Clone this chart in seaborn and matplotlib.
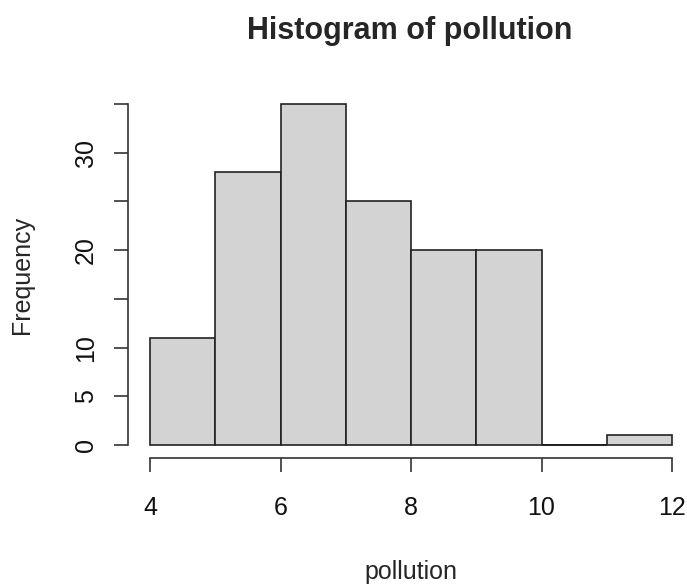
import matplotlib
matplotlib.use("Agg")
import matplotlib.pyplot as plt
import seaborn as sns
import numpy as np

bin_edges = [4, 5, 6, 7, 8, 9, 10, 11, 12]
counts = [11, 28, 35, 25, 20, 20, 0, 1]
x_ticks = [4, 6, 8, 10, 12]
y_ticks = [0, 5, 10, 15, 20, 25, 30, 35]
y_labels = ["0", "5", "10", "", "20", "", "30", ""]

sns.set_style("white")
plt.rcParams['font.family'] = ['Liberation Sans', 'DejaVu Sans']

W, H = 687, 584
PT = 72 / 100  # points per pixel at 100 dpi
fig = plt.figure(figsize=(W / 100, H / 100), dpi=100)
left, right = 150 / W, 672 / W
bottom, top = (H - 445) / H, (H - 104) / H
ax = fig.add_axes([left, bottom, right - left, top - bottom])

centers = [(a + b) / 2 for a, b in zip(bin_edges[:-1], bin_edges[1:])]
sns.histplot(x=centers, weights=counts, bins=bin_edges, ax=ax,
             color="#D3D3D3", edgecolor="#222222", linewidth=1.2, alpha=1)
for p in ax.patches:
    p.set_clip_on(False)
    p.set_linewidth(1.2)
    p.set_edgecolor("#222222")

# empty bins are drawn by R as a flat outline at zero
for a, b, c in zip(bin_edges[:-1], bin_edges[1:], counts):
    if c == 0:
        ax.plot([a, b], [0, 0], color="#222222", linewidth=1.4, clip_on=False,
                solid_capstyle="butt")

ax.set_xlim(4, 12)
ax.set_ylim(0, 35)
ax.set_xticks(x_ticks)
ax.set_xticklabels([str(t) for t in x_ticks])
ax.set_yticks(y_ticks)
ax.set_yticklabels(y_labels)

for s in ["top", "right"]:
    ax.spines[s].set_visible(False)
ax.spines["left"].set_position(("outward", 22 * PT))
ax.spines["bottom"].set_position(("outward", 13 * PT))
ax.spines["left"].set_bounds(0, 35)
ax.spines["bottom"].set_bounds(4, 12)
for s in ["left", "bottom"]:
    ax.spines[s].set_color("#333333")
    ax.spines[s].set_linewidth(1.2)

ax.tick_params(axis="both", which="both", direction="out", length=14 * PT, width=1.2,
               color="#333333", labelsize=18, labelcolor="#111111",
               left=True, bottom=True)
ax.tick_params(axis="x", pad=24 * PT)
ax.tick_params(axis="y", pad=16 * PT, labelrotation=90)
for lab in ax.get_yticklabels():
    lab.set_va("center")

ax.set_xlabel("pollution", fontsize=18, labelpad=40 * PT)
ax.set_ylabel("Frequency", fontsize=18, labelpad=40 * PT)
fig.text(410 / W, 1 - 31 / H, "Histogram of pollution", ha="center", va="center",
         fontsize=22, fontweight="bold")

fig.savefig("out.png", dpi=100)
